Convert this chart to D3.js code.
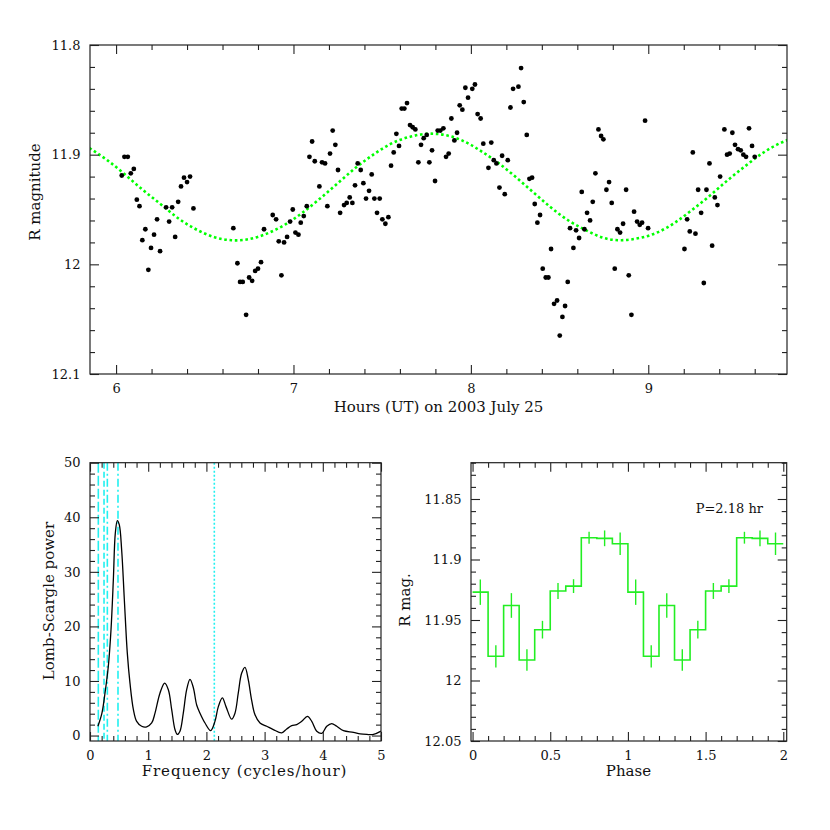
<!DOCTYPE html>
<html>
<head>
<meta charset="utf-8">
<script src="https://cdn.jsdelivr.net/npm/d3@7"></script>
<style>
  body { margin: 0; background: #fff; }
  svg text { font-family: "DejaVu Serif", serif; fill: #111; }
</style>
</head>
<body>
<div id="chart"></div>
<script>
// light curve, 2003 July 25
var hours = [6.032,6.047,6.066,6.083,6.100,6.117,6.132,6.148,6.165,6.182,6.197,6.214,6.231,6.248,6.282,6.299,6.316,6.333,6.350,6.366,6.383,6.400,6.417,6.436,
  6.661,6.684,6.699,6.714,6.733,6.750,6.767,6.784,6.800,6.817,6.834,6.883,6.902,6.917,6.932,6.947,6.964,6.981,6.996,7.011,7.028,7.041,7.058,7.075,
  7.090,7.105,7.120,7.146,7.161,7.178,7.191,7.206,7.221,7.236,7.251,7.263,7.285,7.300,7.317,7.332,7.347,7.362,7.379,7.394,7.409,7.426,7.441,7.456,
  7.471,7.486,7.501,7.518,7.535,7.550,7.565,7.580,7.595,7.610,7.625,7.640,7.657,7.672,7.687,7.704,7.719,7.734,7.751,7.766,7.781,7.798,7.813,7.828,
  7.845,7.860,7.875,7.890,7.907,7.922,7.937,7.952,7.969,7.984,8.008,8.023,8.038,8.055,8.070,8.099,8.115,8.129,8.144,8.161,8.176,8.191,8.208,8.223,
  8.238,8.268,8.283,8.298,8.315,8.330,8.345,8.360,8.375,8.390,8.405,8.422,8.437,8.452,8.469,8.486,8.501,8.516,8.531,8.546,8.559,8.578,8.593,8.610,
  8.625,8.640,8.655,8.672,8.687,8.702,8.719,8.734,8.747,8.764,8.779,8.794,8.811,8.826,8.841,8.858,8.875,8.890,8.905,8.920,8.937,8.952,8.965,8.982,
  8.999,9.204,9.219,9.234,9.251,9.266,9.281,9.298,9.313,9.328,9.345,9.360,9.375,9.390,9.405,9.429,9.444,9.459,9.474,9.489,9.506,9.521,9.536,9.551,
  9.568,9.585,9.600]
var rmag = [11.919,11.902,11.902,11.917,11.913,11.941,11.947,11.978,11.968,12.005,11.985,11.973,11.959,11.988,11.948,11.961,11.948,11.975,11.943,11.929,11.921,11.925,11.920,11.949,
  11.967,11.999,12.016,12.016,12.046,12.012,12.015,12.006,12.004,11.998,11.968,11.955,11.959,11.979,12.010,11.980,11.975,11.961,11.950,11.971,11.973,11.962,11.956,11.947,
  11.902,11.888,11.906,11.929,11.907,11.908,11.947,11.899,11.878,11.891,11.914,11.953,11.946,11.944,11.939,11.944,11.928,11.908,11.914,11.926,11.940,11.933,11.918,11.940,
  11.953,11.940,11.959,11.963,11.957,11.910,11.898,11.881,11.892,11.858,11.858,11.853,11.873,11.875,11.877,11.907,11.891,11.885,11.882,11.907,11.896,11.924,11.878,11.878,
  11.876,11.902,11.899,11.867,11.887,11.880,11.855,11.859,11.839,11.848,11.840,11.836,11.863,11.867,11.890,11.912,11.889,11.905,11.908,11.930,11.901,11.936,11.905,11.857,
  11.840,11.838,11.821,11.852,11.882,11.922,11.921,11.945,11.962,11.955,12.004,12.012,12.012,11.986,12.036,12.033,12.065,12.048,12.038,12.016,11.967,11.985,11.969,11.976,
  11.934,11.968,11.953,11.960,11.943,11.917,11.877,11.883,11.886,11.932,11.925,11.944,12.004,11.968,11.971,11.963,11.932,12.010,12.046,11.952,11.961,11.964,11.962,11.869,
  11.967,11.986,11.959,11.970,11.898,11.972,11.932,11.953,12.017,11.932,11.908,11.983,11.939,11.946,11.920,11.877,11.900,11.899,11.880,11.891,11.895,11.896,11.900,11.902,
  11.876,11.892,11.902]

// fitted curve (green dots), read every 0.1 hr
var fitHours = [5.85,5.95,6.05,6.15,6.25,6.35,6.45,6.55,6.65,6.75,6.85,6.95,7.05,7.15,7.25,7.35,7.45,7.55,7.65,7.75,
  7.85,7.95,8.05,8.15,8.25,8.35,8.45,8.55,8.65,8.75,8.85,8.95,9.05,9.15,9.25,9.35,9.45,9.55,9.65,9.75,9.85]
var fitMag = [11.894,11.905,11.918,11.932,11.945,11.958,11.968,11.975,11.978,11.977,11.972,11.964,11.953,11.940,11.926,11.912,11.900,11.890,11.884,11.881,
  11.882,11.887,11.896,11.907,11.920,11.934,11.948,11.960,11.969,11.976,11.978,11.976,11.971,11.962,11.950,11.937,11.923,11.910,11.898,11.889,11.883]

// Lomb-Scargle periodogram
var freq = [0.136,0.205,0.258,0.315,0.361,0.401,0.435,0.470,0.504,0.544,0.590,0.641,0.687,0.745,0.802,0.888,0.974,1.060,1.117,1.203,
  1.283,1.346,1.403,1.460,1.500,1.546,1.603,1.661,1.718,1.775,1.833,1.890,1.976,2.073,2.147,2.205,2.274,2.337,2.434,2.491,
  2.548,2.605,2.663,2.720,2.777,2.835,2.921,3.036,3.150,3.294,3.380,3.466,3.552,3.638,3.736,3.810,3.896,3.982,4.068,4.154,
  4.240,4.355,4.527,4.642,4.757,4.871,5.000]
var power = [1.7,4.1,7.8,12.7,19.4,28.5,37.1,39.4,38.6,34.0,24.9,15.1,9.6,4.8,2.6,1.7,1.6,2.3,4.1,7.8,
  9.6,8.4,4.8,1.1,0.2,0.8,4.1,8.4,10.3,8.8,5.6,4.1,2.3,0.9,2.6,5.3,6.9,5.3,3.0,4.1,
  7.8,11.4,12.5,10.2,6.5,3.8,2.3,1.7,1.1,0.5,1.2,1.8,2.0,2.6,3.5,2.6,0.8,0.4,1.7,2.2,
  1.7,0.9,0.6,0.3,0.2,0.2,0.8]
var markFreq = [0.143, 0.241, 0.298, 0.481, 2.136]
var markDash = ["10,3", "6,3", "8,3,2,3", "8,3,2,3", "2,2"]

// folded light curve, 10 bins per cycle
var binPhase = [0,0.1,0.2,0.3,0.4,0.5,0.6,0.7,0.8,0.9]
var binMag = [11.927,11.980,11.938,11.983,11.958,11.926,11.922,11.882,11.8825,11.887]
var binErr = [0.0105,0.0092,0.0102,0.0089,0.0073,0.0066,0.0057,0.0049,0.0065,0.0093]

// tick labels
var hourTicks = [6, 7, 8, 9]
var magTicks = [11.8, 11.9, 12, 12.1]
var freqTicks = [0, 1, 2, 3, 4, 5]
var powerTicks = [0, 10, 20, 30, 40, 50]
var phaseTicks = [0, 0.5, 1, 1.5, 2]
var pmagTicks = [11.85, 11.9, 11.95, 12, 12.05]

var svg = d3.select("#chart").append("svg")
  .attr("width", 830)
  .attr("height", 830)

function steps(a, b, s) {
  var n = Math.round((b - a) / s)
  return d3.range(n + 1).map(function(i) { return +(a + i * s).toFixed(4) })
}

// draws the box with inward ticks on all four sides
function frame(x, y, xMajor, xMinor, yMajor, yMinor) {
  var x0 = x.range()[0], x1 = x.range()[1]
  var y0 = y.range()[0], y1 = y.range()[1]
  var g = svg.append("g").attr("class", "frame")
  var ax = [
    [d3.axisBottom(x), "translate(0," + y0 + ")", xMajor, xMinor, true],
    [d3.axisTop(x), "translate(0," + y1 + ")", xMajor, xMinor, false],
    [d3.axisLeft(y), "translate(" + x0 + ",0)", yMajor, yMinor, true],
    [d3.axisRight(y), "translate(" + x1 + ",0)", yMajor, yMinor, false]
  ]
  ax.forEach(function(a) {
    var minor = a[3].filter(function(v) { return a[2].indexOf(v) < 0 })
    var s = a[0].scale()
    minor = minor.filter(function(v) {
      var p = s(v); return p >= Math.min(s.range()[0], s.range()[1]) - 0.5 && p <= Math.max(s.range()[0], s.range()[1]) + 0.5
    })
    g.append("g").attr("transform", a[1])
      .call(a[0].tickValues(minor).tickSize(-5).tickSizeOuter(0).tickFormat(""))
    var major = g.append("g").attr("transform", a[1])
      .call(a[0].tickValues(a[2]).tickSize(-9).tickSizeOuter(0).tickPadding(9.5)
        .tickFormat(a[4] ? function(d) { return String(d) } : ""))
    major.selectAll("text").style("font-size", "13px").attr("fill", "#111")
  })
  g.selectAll(".domain").remove()
  g.selectAll(".tick line").attr("stroke", "#222").attr("stroke-width", 1.1)
  g.append("rect")
    .attr("x", x0).attr("y", y1)
    .attr("width", x1 - x0).attr("height", y0 - y1)
    .attr("fill", "none").attr("stroke", "#222").attr("stroke-width", 1.2)
}

function label(text, x, y, rot, spacing) {
  svg.append("text")
    .attr("transform", "translate(" + x + "," + y + ")" + (rot ? " rotate(-90)" : ""))
    .attr("text-anchor", "middle")
    .style("font-size", "15px")
    .style("letter-spacing", (spacing || 0) + "px")
    .text(text)
}

// ---- top: light curve
var x1 = d3.scaleLinear().domain([5.853, 9.782]).range([90, 787])
var y1 = d3.scaleLinear().domain([12.1, 11.8]).range([374, 45])

svg.append("clipPath").attr("id", "clipTop").append("rect")
  .attr("x", 90).attr("y", 45).attr("width", 697).attr("height", 329)

svg.append("path")
  .datum(fitHours.map(function(h, i) { return [h, fitMag[i]] }))
  .attr("clip-path", "url(#clipTop)")
  .attr("fill", "none")
  .attr("stroke", "#00ff00")
  .attr("stroke-width", 2.6)
  .attr("stroke-dasharray", "2.6,2.7")
  .attr("d", d3.line()
    .x(function(d) { return x1(d[0]) })
    .y(function(d) { return y1(d[1]) })
    .curve(d3.curveNatural))

svg.selectAll("circle.pt")
  .data(hours)
  .enter()
  .append("circle")
  .attr("class", "pt")
  .attr("cx", function(d) { return x1(d) })
  .attr("cy", function(d, i) { return y1(rmag[i]) })
  .attr("r", 2.4)
  .attr("fill", "#000")

frame(x1, y1, hourTicks, steps(5.8, 9.8, 0.2), magTicks, steps(11.8, 12.1, 0.02))
label("Hours (UT) on 2003 July 25", 438.5, 412, false)
label("R magnitude", 40, 192, true)

// ---- bottom left: periodogram
var x2 = d3.scaleLinear().domain([0, 5]).range([90, 381])
var y2 = d3.scaleLinear().domain([-1, 50]).range([741, 462.7])

svg.selectAll("line.mark")
  .data(markFreq)
  .enter()
  .append("line")
  .attr("class", "mark")
  .attr("x1", function(d) { return x2(d) })
  .attr("x2", function(d) { return x2(d) })
  .attr("y1", y2(50))
  .attr("y2", y2(-1))
  .attr("stroke", "#22f0f0")
  .attr("stroke-width", 1.6)
  .attr("stroke-dasharray", function(d, i) { return markDash[i] })

svg.append("path")
  .datum(freq.map(function(f, i) { return [f, power[i]] }))
  .attr("fill", "none")
  .attr("stroke", "#000")
  .attr("stroke-width", 1.3)
  .attr("d", d3.line()
    .x(function(d) { return x2(d[0]) })
    .y(function(d) { return y2(d[1]) })
    .curve(d3.curveCatmullRom.alpha(0.5)))

frame(x2, y2, freqTicks, steps(0, 5, 0.2), powerTicks, steps(0, 50, 2))
label("Frequency (cycles/hour)", 244.5, 776, false, 0.9)
label("Lomb-Scargle power", 54, 601, true)

// ---- bottom right: folded light curve
var x3 = d3.scaleLinear().domain([-0.01, 2.022]).range([471, 786.7])
var y3 = d3.scaleLinear().domain([12.05, 11.82]).range([741, 462.7])

var folded = []
for (var c = 0; c < 2; c++) {
  binPhase.forEach(function(p, i) {
    folded.push({phase: p + c, mag: binMag[i], err: binErr[i]})
  })
}
var stepPts = folded.map(function(d) { return [d.phase, d.mag] })
stepPts.push([2, binMag[binMag.length - 1]])

svg.append("path")
  .datum(stepPts)
  .attr("fill", "none")
  .attr("stroke", "#22ee22")
  .attr("stroke-width", 1.6)
  .attr("d", d3.line()
    .x(function(d) { return x3(d[0]) })
    .y(function(d) { return y3(d[1]) })
    .curve(d3.curveStepAfter))

svg.selectAll("line.err")
  .data(folded)
  .enter()
  .append("line")
  .attr("class", "err")
  .attr("x1", function(d) { return x3(d.phase + 0.05) })
  .attr("x2", function(d) { return x3(d.phase + 0.05) })
  .attr("y1", function(d) { return y3(d.mag - d.err) })
  .attr("y2", function(d) { return y3(d.mag + d.err) })
  .attr("stroke", "#22ee22")
  .attr("stroke-width", 1.4)

frame(x3, y3, phaseTicks, steps(0, 2, 0.1), pmagTicks, steps(11.82, 12.05, 0.01))
label("Phase", 628.5, 776, false)
label("R mag.", 410, 600, true)

svg.append("text")
  .attr("x", 763)
  .attr("y", 512.5)
  .attr("text-anchor", "end")
  .style("font-size", "13px")
  .text("P=2.18 hr")
</script>
</body>
</html>
